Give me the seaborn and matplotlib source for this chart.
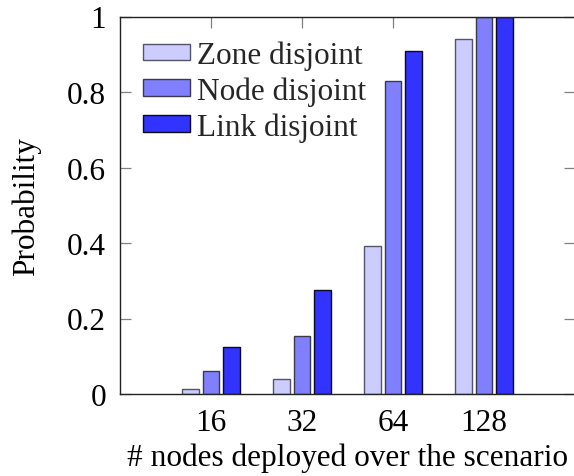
import matplotlib
matplotlib.use("Agg")
import matplotlib.pyplot as plt
import seaborn as sns
import pandas as pd

# Node counts and path-disjointness probabilities
node_counts = ["16", "32", "64", "128"]
zone_disjoint = [0.014, 0.041, 0.393, 0.940]
node_disjoint = [0.062, 0.153, 0.828, 1.0]
link_disjoint = [0.125, 0.275, 0.909, 1.0]
series_names = ["Zone disjoint", "Node disjoint", "Link disjoint"]
y_ticks = [0, 0.2, 0.4, 0.6, 0.8, 1]
y_tick_labels = ["0", "0.2", "0.4", "0.6", "0.8", "1"]

fills = ["#ccccff", "#8080ff", "#3333ff"]
edges = ["#55556a", "#3a3a4a", "#0a0a20"]

df = pd.DataFrame({
    "nodes": node_counts * 3,
    "series": [s for s in series_names for _ in node_counts],
    "prob": zone_disjoint + node_disjoint + link_disjoint,
})

sns.set_theme(style="ticks")
plt.rcParams["font.family"] = ["Liberation Serif", "DejaVu Serif"]

fig = plt.figure(figsize=(5.74, 4.77), dpi=100)
ax = fig.add_axes([120 / 574, 82 / 477, 455 / 574, 377.5 / 477])

sns.barplot(data=df, x="nodes", y="prob", hue="series", order=node_counts,
            hue_order=series_names, palette=fills, width=0.675, gap=0.17,
            linewidth=1.0, saturation=1, ax=ax, legend=True)

for cont, ec in zip(ax.containers, edges):
    for bar in cont:
        bar.set_edgecolor(ec)
        bar.set_linewidth(1.0)

ax.set_xlim(-1, 4)
ax.set_ylim(0, 1)
ax.set_yticks(y_ticks)
ax.set_yticklabels(y_tick_labels)
ax.set_axisbelow(True)

fs = 22.5
ax.tick_params(axis="both", direction="in", length=8, width=0.9,
               color="#808080", labelsize=fs, labelcolor="black",
               top=True, right=True)
ax.tick_params(axis="x", pad=10)
ax.tick_params(axis="y", pad=10)
for side in ["top", "bottom", "left", "right"]:
    ax.spines[side].set_visible(True)
    ax.spines[side].set_color("#222222")
    ax.spines[side].set_linewidth(1.0)

ax.set_xlabel("# nodes deployed over the scenario", fontsize=fs, color="black",
              labelpad=4)
ax.set_ylabel("Probability", fontsize=fs, color="black", labelpad=19)

leg = ax.legend(loc="upper left", bbox_to_anchor=(23 / 455, 0.936),
                frameon=False, fontsize=fs, handlelength=1.5,
                handleheight=0.45, handletextpad=0.22, labelspacing=0.2,
                borderpad=0, borderaxespad=0)
for h, ec in zip(leg.legend_handles, edges):
    h.set_edgecolor(ec)
    h.set_linewidth(1.0)

fig.savefig("out.png", dpi=100)
